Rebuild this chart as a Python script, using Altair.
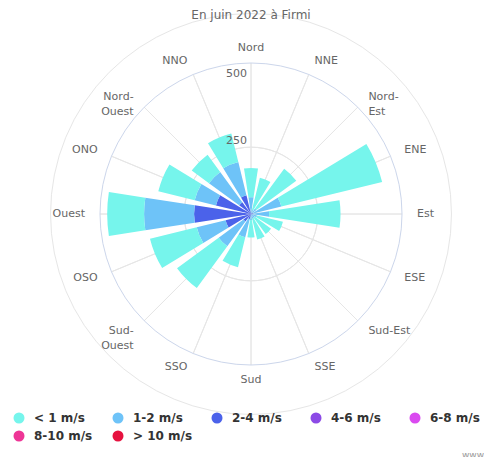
import math
import altair as alt
import pandas as pd

# ---------------- data ----------------
directions = ["Nord", "NNE", "Nord-Est", "ENE", "Est", "ESE", "Sud-Est", "SSE",
              "Sud", "SSO", "Sud-Ouest", "OSO", "Ouest", "ONO", "Nord-Ouest", "NNO"]
dir_labels = ["Nord", "NNE", "Nord-\nEst", "ENE", "Est", "ESE", "Sud-Est", "SSE",
              "Sud", "SSO", "Sud-\nOuest", "OSO", "Ouest", "ONO", "Nord-\nOuest", "NNO"]
label_side = ["center", "left", "left", "left", "left", "left", "left", "left",
              "center", "right", "right", "right", "right", "right", "right", "right"]

classes = ["< 1 m/s", "1-2 m/s", "2-4 m/s", "4-6 m/s", "6-8 m/s", "8-10 m/s", "> 10 m/s"]
colors = ["#76F5EC", "#6EC3F8", "#4B62EA", "#8C4AE6", "#DA4AF0", "#EE3596", "#E6123F"]

lt1   = [109, 125, 185, 388, 267, 100, 75, 80, 65, 115, 193, 180, 138, 140, 80, 110]
s1_2  = [58, 15, 20, 109, 60, 20, 15, 15, 20, 70, 115, 111, 187, 82, 140, 128]
s2_4  = [5, 0, 5, 8, 8, 3, 3, 3, 3, 20, 35, 98, 213, 135, 55, 72]
s4_6  = [0] * 16
s6_8  = [0] * 16
s8_10 = [0] * 16
gt10  = [0] * 16
series = [lt1, s1_2, s2_4, s4_6, s6_8, s8_10, gt10]

tick_values = [250, 500]
tick_labels = ["250", "500"]

title_text = "En juin 2022 à Firmi"
credit_text = "www.infoclimat.fr"

# ---------------- tables ----------------
half = 0.39  # half angular width of a column, in direction units
rows = []
totals = []
for i, d in enumerate(directions):
    base = 0
    # first series on top of the stack (Highcharts style)
    for j in reversed(range(len(classes))):
        v = series[j][i]
        rows.append(dict(dir=d, idx=i, t0=i - half, t1=i + half,
                         cls=classes[j], r0=base, r1=base + v, v=v))
        base += v
    totals.append(base)
bars_df = pd.DataFrame(rows)

rmax = max(totals) * 1.05

grid_df = pd.DataFrame({"r": tick_values})
outer_df = pd.DataFrame({"r": [rmax]})
spoke_df = pd.DataFrame({"idx": list(range(len(directions))), "r": [rmax] * len(directions)})
tick_df = pd.DataFrame({"r": tick_values, "label": tick_labels})
lab_df = pd.DataFrame({"idx": list(range(len(directions))), "label": dir_labels, "side": label_side})

FONT = "DejaVu Sans"
theta_scale = alt.Scale(domain=[0, len(directions)], range=[0, 2 * math.pi])
r_scale = alt.Scale(type="linear", domain=[0, rmax], range=[0, 151], zero=True, nice=False)

grid = alt.Chart(grid_df).mark_arc(fillOpacity=0, stroke="#e6e6e6", strokeWidth=1).encode(
    theta=alt.value(0), theta2=alt.value(2 * math.pi),
    radius=alt.Radius("r:Q", scale=r_scale),
)
spokes = alt.Chart(spoke_df).mark_arc(fillOpacity=0, stroke="#e6e6e6", strokeWidth=1).encode(
    theta=alt.Theta("idx:Q", scale=theta_scale), theta2=alt.Theta2("idx:Q"),
    radius=alt.Radius("r:Q", scale=r_scale),
)
outer = alt.Chart(outer_df).mark_arc(fillOpacity=0, stroke="#ccd6eb", strokeWidth=1).encode(
    theta=alt.value(0), theta2=alt.value(2 * math.pi),
    radius=alt.Radius("r:Q", scale=r_scale),
)

bars = alt.Chart(bars_df).mark_arc(strokeWidth=0).encode(
    theta=alt.Theta("t0:Q", scale=theta_scale), theta2=alt.Theta2("t1:Q"),
    radius=alt.Radius("r1:Q", scale=r_scale), radius2=alt.Radius2("r0:Q"),
    color=alt.Color("cls:N", scale=alt.Scale(domain=classes, range=colors),
                    legend=alt.Legend(orient="none", legendX=-73, legendY=363,
                                      direction="horizontal", columns=5, title=None,
                                      symbolType="circle", symbolSize=121, symbolStrokeWidth=0,
                                      symbolOpacity=1,
                                      labelFont=FONT, labelFontSize=12, labelFontWeight="bold",
                                      labelColor="#333333", labelOffset=9,
                                      gridAlign="all", columnPadding=18, rowPadding=6)),
    tooltip=["dir:N", "cls:N", "v:Q"],
)

ticks = alt.Chart(tick_df).mark_text(align="right", baseline="middle", dx=-4, dy=-6,
                                     font=FONT, fontSize=11, color="#666666").encode(
    theta=alt.value(0), radius=alt.Radius("r:Q", scale=r_scale), text="label:N",
)


def dir_text(side, align):
    return alt.Chart(lab_df).transform_filter(alt.datum.side == side).mark_text(
        align=align, baseline="middle", font=FONT, fontSize=11, color="#666666", lineBreak="\n",
        lineHeight=15,
    ).encode(
        theta=alt.Theta("idx:Q", scale=theta_scale), radius=alt.value(166), text="label:N",
    )


title = alt.Chart(pd.DataFrame({"t": [title_text]})).mark_text(
    align="center", baseline="middle", font=FONT, fontSize=12, color="#666666"
).encode(x=alt.value(165), y=alt.value(-34), text="t:N")

credit = alt.Chart(pd.DataFrame({"t": [credit_text]})).mark_text(
    align="left", baseline="middle", font=FONT, fontSize=9, color="#999999"
).encode(x=alt.value(376), y=alt.value(406), text="t:N")

chart = alt.layer(
    grid, spokes, outer, bars, ticks,
    dir_text("left", "left"), dir_text("right", "right"), dir_text("center", "center"),
    title, credit,
).properties(
    width=330, height=330,
    padding={"left": 78, "top": 41, "right": 68, "bottom": 78},
    autosize=alt.AutoSizeParams(type="none"),
).configure_view(stroke=None)

chart.save("out.html", embed_options={"renderer": "svg", "actions": False})
